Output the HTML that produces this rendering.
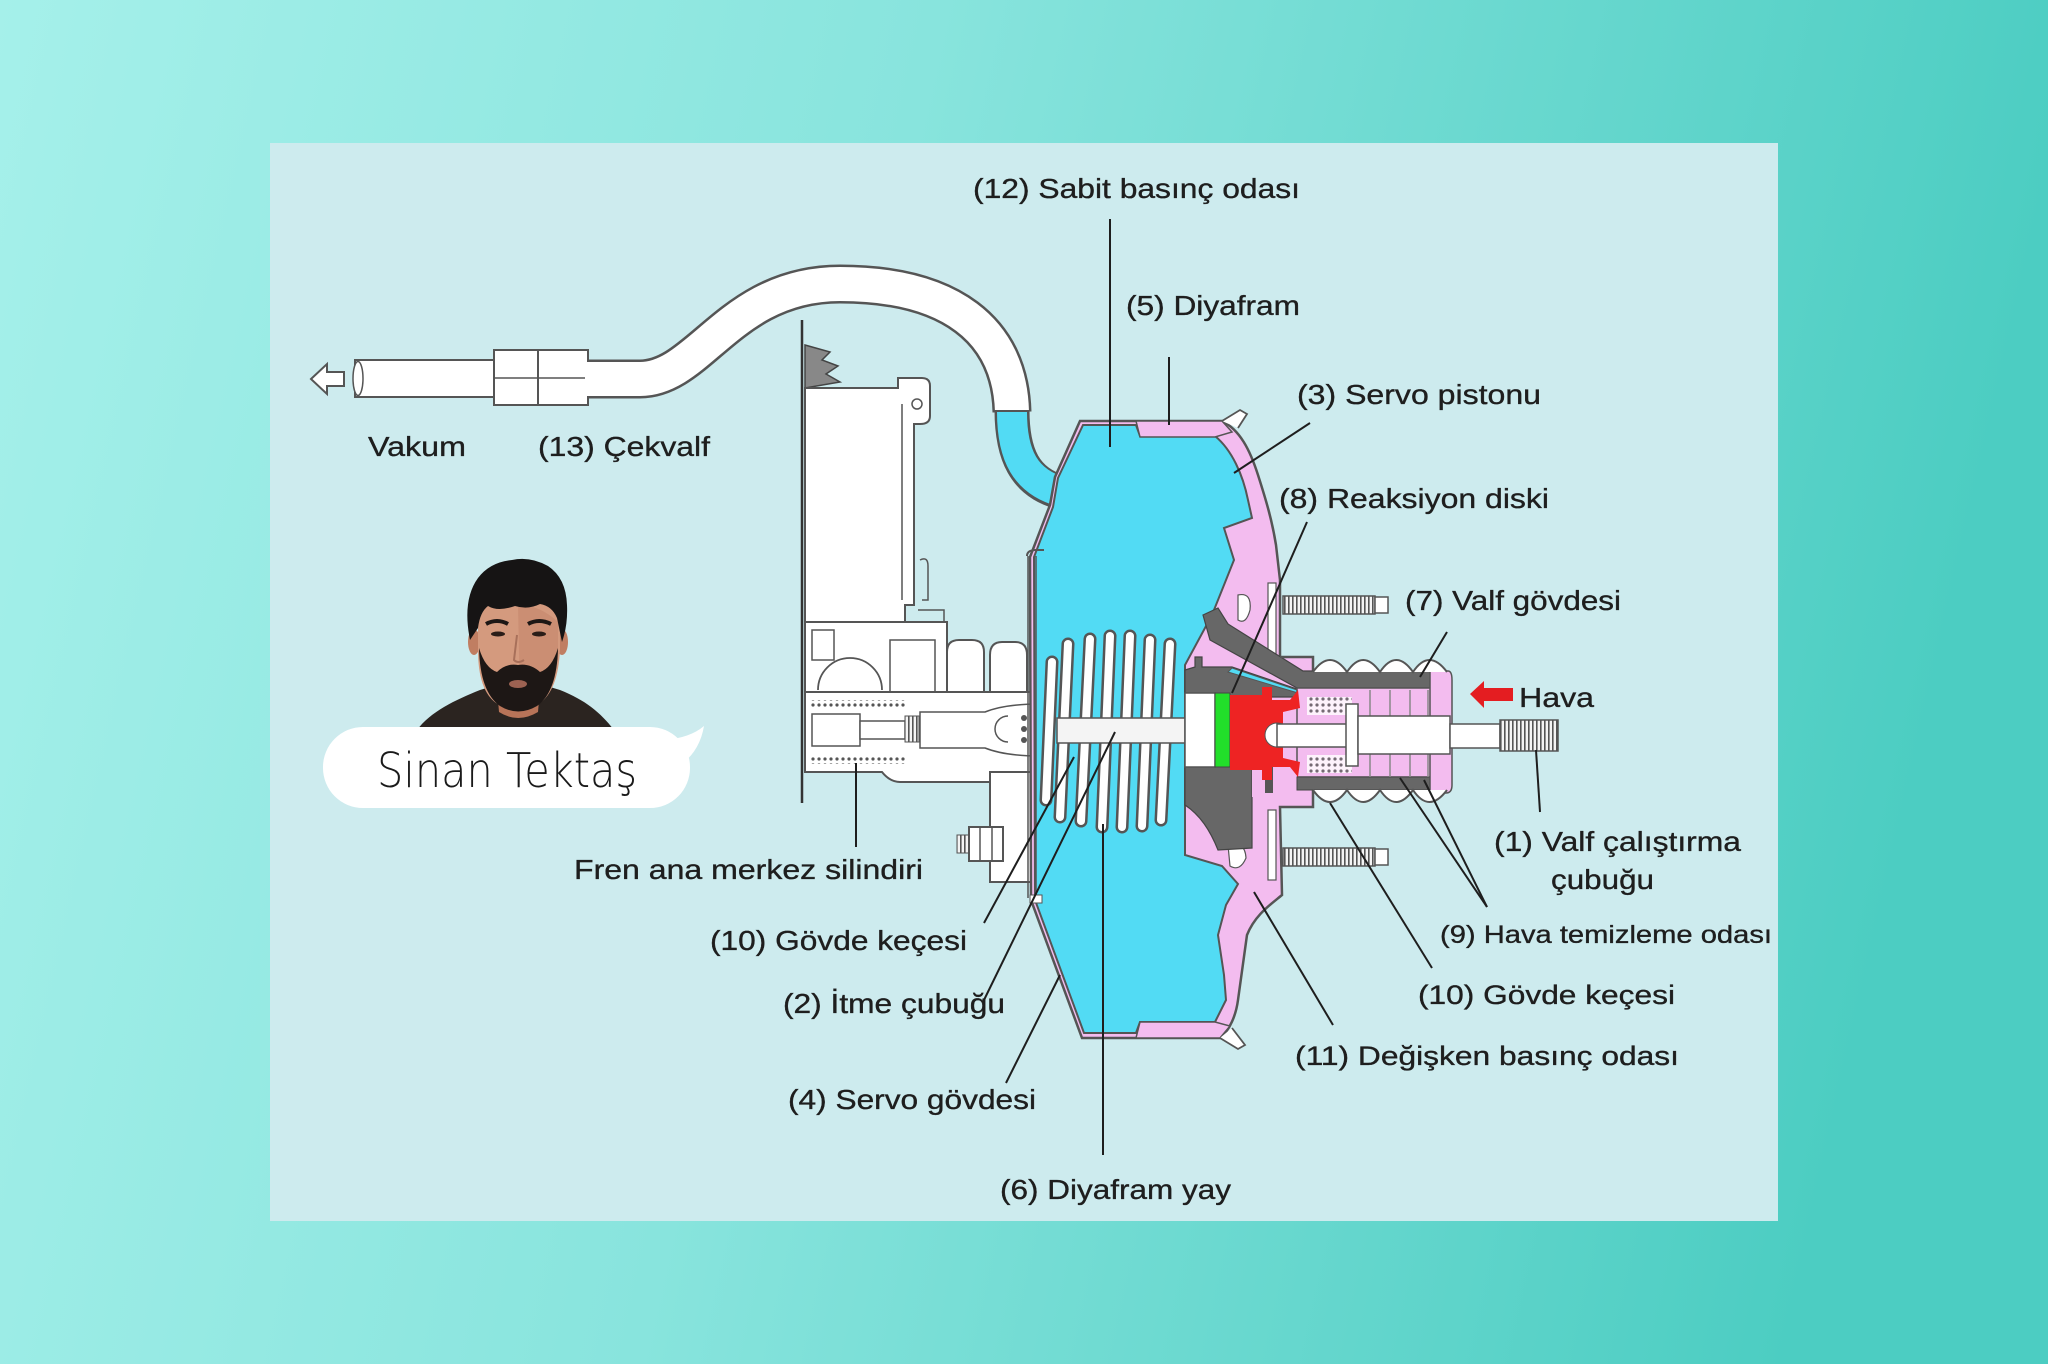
<!DOCTYPE html>
<html>
<head>
<meta charset="utf-8">
<style>
html,body{margin:0;padding:0;width:2048px;height:1364px;overflow:hidden;}
svg{display:block;}
.lb{font-family:"Liberation Sans",Arial,sans-serif;fill:#1e1e1e;font-size:28px;stroke:#1e1e1e;stroke-width:0.35px;}
.ln{stroke:#1e1e1e;stroke-width:2;fill:none;}
.o{stroke:#555;stroke-width:2;}
</style>
</head>
<body>
<svg width="2048" height="1364" viewBox="0 0 2048 1364" xmlns="http://www.w3.org/2000/svg">
<defs>
  <linearGradient id="bg" x1="0" y1="0" x2="1" y2="0.15">
    <stop offset="0" stop-color="#a5f0ea"/>
    <stop offset="0.45" stop-color="#88e4dd"/>
    <stop offset="1" stop-color="#4ccdc2"/>
  </linearGradient>
  <pattern id="vh" width="4" height="4" patternUnits="userSpaceOnUse">
    <rect width="4" height="4" fill="#f4f4f4"/>
    <rect x="0" y="0" width="1.6" height="4" fill="#555"/>
  </pattern>
  <pattern id="dh" width="6" height="6" patternUnits="userSpaceOnUse">
    <rect width="6" height="6" fill="#fff"/>
    <circle cx="3" cy="3" r="1.6" fill="#555"/>
  </pattern>
</defs>

<!-- background -->
<rect width="2048" height="1364" fill="url(#bg)"/>
<rect x="270" y="143" width="1508" height="1078" fill="#cdebee"/>

<!-- ===== vacuum hose ===== -->
<polygon points="311,379 327,364 327,372 344,372 344,386 327,386 327,394" fill="#fff" stroke="#555" stroke-width="2"/>
<rect x="355" y="360" width="139" height="37" fill="#fff" stroke="#555" stroke-width="2"/>
<ellipse cx="358" cy="378.5" rx="5" ry="17" fill="#fff" stroke="#555" stroke-width="1.5"/>
<rect x="494" y="350" width="44" height="55" fill="#fff" stroke="#555" stroke-width="2"/>
<rect x="538" y="350" width="50" height="55" fill="#fff" stroke="#555" stroke-width="2"/>
<line x1="494" y1="378" x2="588" y2="378" stroke="#555" stroke-width="1.5"/>
<path d="M587 379 L640 379 C700 379 730 284 840 284 C950 284 1010 330 1012 412" fill="none" stroke="#555" stroke-width="39"/>
<path d="M585 379 L640 379 C700 379 730 284 840 284 C950 284 1010 330 1012 412" fill="none" stroke="#fff" stroke-width="34"/>
<path d="M1012 410 C1012 455 1025 482 1060 492" fill="none" stroke="#555" stroke-width="35"/>
<path d="M1012 412 C1012 455 1025 482 1062 492" fill="none" stroke="#52dbf4" stroke-width="30"/>

<!-- ===== master cylinder ===== -->
<line x1="802" y1="320" x2="802" y2="803" stroke="#333" stroke-width="2.5"/>
<path d="M805 345 L830 352 L822 360 L838 366 L826 374 L840 382 L805 388 Z" fill="#888" stroke="#444" stroke-width="1.5"/>
<path d="M805 388 H898 V378 H922 Q930 378 930 386 V416 Q930 424 920 424 H914 V605 H905 V625 H805 Z" fill="#fff" stroke="#555" stroke-width="2"/>
<line x1="902" y1="404" x2="902" y2="600" stroke="#555" stroke-width="1.5"/>
<circle cx="917" cy="404" r="5" fill="none" stroke="#555" stroke-width="1.5"/>
<path d="M920 560 Q928 556 928 566 V600 H922" fill="none" stroke="#555" stroke-width="1.5"/>
<path d="M918 610 H944 V636" fill="none" stroke="#555" stroke-width="1.5"/>
<rect x="805" y="622" width="142" height="70" fill="#fff" stroke="#555" stroke-width="2"/>
<path d="M818 690 A32 32 0 0 1 882 690" fill="none" stroke="#555" stroke-width="1.8"/>
<rect x="812" y="630" width="22" height="30" fill="none" stroke="#555" stroke-width="1.5"/>
<path d="M890 692 V640 H935 V692" fill="none" stroke="#555" stroke-width="1.5"/>
<path d="M947 692 V652 Q947 640 959 640 H972 Q984 640 984 652 V692" fill="#fff" stroke="#555" stroke-width="2"/>
<path d="M990 692 V655 Q990 642 1002 642 H1015 Q1027 642 1027 655 V692" fill="#fff" stroke="#555" stroke-width="2"/>
<path d="M805 692 H1057 V772 H1000 V782 H900 Q890 782 882 772 H805 Z" fill="#fff" stroke="#555" stroke-width="2"/>
<rect x="810" y="700" width="95" height="8" fill="url(#dh)"/>
<rect x="810" y="756" width="95" height="8" fill="url(#dh)"/>
<rect x="812" y="714" width="48" height="32" fill="#fff" stroke="#555" stroke-width="1.5"/>
<rect x="860" y="721" width="45" height="18" fill="#fff" stroke="#555" stroke-width="1.5"/>
<rect x="905" y="716" width="14" height="26" fill="url(#vh)" stroke="#555" stroke-width="1"/>
<path d="M920 712 H985 Q1005 704 1040 704 V756 Q1005 756 985 748 H920 Z" fill="#fff" stroke="#555" stroke-width="1.5"/>
<path d="M1008 716 A12 12 0 0 0 1008 742" fill="none" stroke="#555" stroke-width="1.5"/>
<circle cx="1024" cy="718" r="3" fill="#555"/><circle cx="1024" cy="729" r="3" fill="#555"/><circle cx="1024" cy="740" r="3" fill="#555"/>
<rect x="1040" y="704" width="14" height="52" fill="url(#vh)" stroke="#555" stroke-width="1"/>
<path d="M990 772 H1042 V882 H990 Z" fill="#fff" stroke="#555" stroke-width="2"/>
<rect x="957" y="835" width="12" height="18" fill="url(#vh)" stroke="#555" stroke-width="1"/>
<rect x="969" y="827" width="34" height="34" fill="#fff" stroke="#555" stroke-width="2"/>
<line x1="980" y1="827" x2="980" y2="861" stroke="#555" stroke-width="1.5"/>
<line x1="992" y1="827" x2="992" y2="861" stroke="#555" stroke-width="1.5"/>

<!-- ===== servo housing ===== -->
<path d="M1080 421 L1222 421 C1240 430 1250 450 1258 475 C1266 500 1272 520 1276 545 L1280 580 L1280 657 L1313 657 L1313 807 L1280 807 L1282 895 C1270 905 1255 915 1247 935 L1238 1000 C1236 1015 1230 1030 1220 1038 L1082 1038 L1031 900 L1030 557 L1050 505 L1055 477 Z" fill="#f3bcef" stroke="#555" stroke-width="2.5"/>
<path d="M1083 425 L1136 425 L1140 436 L1215 436 C1232 450 1243 475 1248 500 L1252 518 L1224 528 L1234 560 L1224 585 L1212 615 L1185 665 L1185 855 L1222 866 L1238 884 L1226 905 L1218 935 L1224 975 L1226 1000 L1215 1022 L1140 1022 L1136 1033 L1084 1033 L1035 900 L1034 557 L1053 507 L1058 478 Z" fill="#52dbf4" stroke="#555" stroke-width="2"/>
<path d="M1136 421 H1222 L1232 432 L1215 437 H1140 Z" fill="#f3bcef" stroke="#555" stroke-width="1.5"/>
<path d="M1136 1038 H1220 L1230 1026 L1215 1022 H1140 Z" fill="#f3bcef" stroke="#555" stroke-width="1.5"/>
<path d="M1222 421 L1240 410 L1247 414 L1238 428" fill="#fff" stroke="#555" stroke-width="1.8"/>
<path d="M1220 1038 L1238 1049 L1245 1045 L1232 1028" fill="#fff" stroke="#555" stroke-width="1.8"/>
<path d="M1027 556 Q1027 550 1036 550 H1044" fill="none" stroke="#555" stroke-width="2"/>
<line x1="1028" y1="556" x2="1028" y2="898" stroke="#555" stroke-width="1.5"/>
<line x1="1036" y1="556" x2="1036" y2="898" stroke="#555" stroke-width="1.5"/>
<rect x="1030" y="895" width="12" height="8" fill="#fff" stroke="#555" stroke-width="1"/>
<rect x="1268" y="583" width="8" height="72" fill="#fff" stroke="#555" stroke-width="1.2"/>
<rect x="1268" y="810" width="8" height="70" fill="#fff" stroke="#555" stroke-width="1.2"/>
<path d="M1238 595 Q1252 592 1250 610 Q1246 625 1238 620 Z" fill="#fff" stroke="#555" stroke-width="1.2"/>
<path d="M1228 845 Q1245 840 1246 858 Q1240 872 1230 866 Z" fill="#fff" stroke="#555" stroke-width="1.2"/>
<rect x="1283" y="596" width="92" height="18" fill="url(#vh)" stroke="#555" stroke-width="1.5"/>
<rect x="1375" y="597" width="13" height="16" fill="#fff" stroke="#555" stroke-width="1.5"/>
<rect x="1283" y="848" width="92" height="18" fill="url(#vh)" stroke="#555" stroke-width="1.5"/>
<rect x="1375" y="849" width="13" height="16" fill="#fff" stroke="#555" stroke-width="1.5"/>

<!-- ===== springs ===== -->
<g stroke-linecap="round">
  <g stroke="#555" stroke-width="13">
    <line x1="1052" y1="662" x2="1046" y2="800"/>
    <line x1="1068" y1="644" x2="1060" y2="817"/>
    <line x1="1090" y1="639" x2="1081" y2="821"/>
    <line x1="1110" y1="636" x2="1102" y2="827"/>
    <line x1="1130" y1="636" x2="1122" y2="827"/>
    <line x1="1150" y1="640" x2="1142" y2="826"/>
    <line x1="1170" y1="644" x2="1161" y2="820"/>
  </g>
  <g stroke="#fff" stroke-width="8">
    <line x1="1052" y1="662" x2="1046" y2="800"/>
    <line x1="1068" y1="644" x2="1060" y2="817"/>
    <line x1="1090" y1="639" x2="1081" y2="821"/>
    <line x1="1110" y1="636" x2="1102" y2="827"/>
    <line x1="1130" y1="636" x2="1122" y2="827"/>
    <line x1="1150" y1="640" x2="1142" y2="826"/>
    <line x1="1170" y1="644" x2="1161" y2="820"/>
  </g>
</g>
<rect x="1057" y="718" width="128" height="25" fill="#f4f4f4" stroke="#555" stroke-width="1.5"/>

<!-- ===== hub & valve ===== -->
<path d="M1203 615 L1218 608 L1228 624 L1303 671 L1447 671 L1447 688 L1297 688 L1210 640 Z" fill="#676767" stroke="#444" stroke-width="1.2"/>
<path d="M1185 670 L1195 667 L1195 657 L1202 657 L1202 667 L1232 667 L1300 690 L1300 697 L1252 697 L1252 848 L1218 850 C1210 830 1200 815 1185 805 Z" fill="#676767" stroke="#444" stroke-width="1.2"/>
<path d="M1232 668 L1297 690 L1338 692 L1323 708 L1308 696 L1228 672 Z" fill="#52dbf4" stroke="#555" stroke-width="1"/>
<rect x="1185" y="693" width="30" height="74" fill="#fff" stroke="#555" stroke-width="1.5"/>
<rect x="1215" y="693" width="15" height="74" fill="#22df2a" stroke="#444" stroke-width="1"/>
<rect x="1297" y="688" width="153" height="89" fill="#f3bcef" stroke="#555" stroke-width="1.5"/>
<rect x="1252" y="767" width="45" height="30" fill="#f3bcef"/>
<rect x="1297" y="777" width="150" height="13" fill="#676767" stroke="#444" stroke-width="1"/>
<path d="M1430 671 H1448 Q1452 671 1452 680 V785 Q1452 793 1446 793 H1430 Z" fill="#f3bcef" stroke="#555" stroke-width="1.5"/>
<g stroke="#888" stroke-width="1.5">
  <line x1="1370" y1="690" x2="1370" y2="777"/>
  <line x1="1390" y1="690" x2="1390" y2="777"/>
  <line x1="1410" y1="690" x2="1410" y2="777"/>
  <line x1="1428" y1="690" x2="1428" y2="777"/>
</g>
<rect x="1307" y="697" width="45" height="18" fill="url(#dh)" opacity="0.8"/>
<rect x="1307" y="755" width="45" height="18" fill="url(#dh)" opacity="0.8"/>
<rect x="1265" y="767" width="8" height="26" fill="#555"/>
<path d="M1230 695 L1262 695 L1262 687 L1272 687 L1272 700 L1290 700 L1298 690 L1300 708 L1283 712 L1283 758 L1300 762 L1298 777 L1290 767 L1272 767 L1272 780 L1262 780 L1262 770 L1230 770 Z" fill="#ee2323"/>
<circle cx="1277" cy="735" r="12" fill="#fff" stroke="#555" stroke-width="1"/>
<rect x="1277" y="724" width="75" height="23" fill="#fff" stroke="#555" stroke-width="1.5"/>
<rect x="1346" y="704" width="12" height="62" fill="#fff" stroke="#555" stroke-width="1.5"/>
<rect x="1358" y="716" width="92" height="38" fill="#fff" stroke="#555" stroke-width="1.5"/>
<rect x="1450" y="724" width="50" height="24" fill="#fff" stroke="#555" stroke-width="1.5"/>
<rect x="1500" y="720" width="58" height="31" fill="url(#vh)" stroke="#555" stroke-width="1.5"/>
<path d="M1313 672 Q1330 648 1347 672 Q1363 648 1380 672 Q1396 648 1413 672 Q1429 648 1447 672" fill="#fff" stroke="#555" stroke-width="2"/>
<path d="M1313 790 Q1330 814 1347 790 Q1363 814 1380 790 Q1396 814 1413 790 Q1429 814 1447 790" fill="#fff" stroke="#555" stroke-width="2"/>
<line x1="1280" y1="657" x2="1313" y2="657" stroke="#555" stroke-width="2"/>
<line x1="1280" y1="807" x2="1313" y2="807" stroke="#555" stroke-width="2"/>

<polygon points="1470,694 1484,681 1484,688 1513,688 1513,701 1484,701 1484,708" fill="#e41d21"/>

<!-- ===== leader lines ===== -->
<g class="ln">
  <line x1="1110" y1="219" x2="1110" y2="447"/>
  <line x1="1169" y1="357" x2="1169" y2="425"/>
  <line x1="1310" y1="423" x2="1234" y2="473"/>
  <line x1="1307" y1="522" x2="1232" y2="693"/>
  <line x1="1447" y1="632" x2="1420" y2="677"/>
  <line x1="1536" y1="750" x2="1540" y2="812"/>
  <line x1="1487" y1="907" x2="1400" y2="778"/>
  <line x1="1487" y1="907" x2="1424" y2="780"/>
  <line x1="1432" y1="968" x2="1330" y2="803"/>
  <line x1="1333" y1="1025" x2="1254" y2="892"/>
  <line x1="1103" y1="824" x2="1103" y2="1155"/>
  <line x1="1006" y1="1083" x2="1060" y2="975"/>
  <line x1="984" y1="1000" x2="1115" y2="732"/>
  <line x1="984" y1="923" x2="1074" y2="757"/>
  <line x1="856" y1="763" x2="856" y2="847"/>
</g>

<!-- ===== labels ===== -->
<text class="lb" x="973" y="198" textLength="327" lengthAdjust="spacingAndGlyphs">(12) Sabit basınç odası</text>
<text class="lb" x="1126" y="315" textLength="174" lengthAdjust="spacingAndGlyphs">(5) Diyafram</text>
<text class="lb" x="1297" y="404" textLength="244" lengthAdjust="spacingAndGlyphs">(3) Servo pistonu</text>
<text class="lb" x="1279" y="508" textLength="270" lengthAdjust="spacingAndGlyphs">(8) Reaksiyon diski</text>
<text class="lb" x="1405" y="610" textLength="216" lengthAdjust="spacingAndGlyphs">(7) Valf gövdesi</text>
<text class="lb" x="1519" y="707" textLength="75" lengthAdjust="spacingAndGlyphs">Hava</text>
<text class="lb" x="1494" y="851" textLength="247" lengthAdjust="spacingAndGlyphs">(1) Valf çalıştırma</text>
<text class="lb" x="1551" y="889" textLength="103" lengthAdjust="spacingAndGlyphs">çubuğu</text>
<text class="lb" x="1440" y="943" style="font-size:25px" textLength="332" lengthAdjust="spacingAndGlyphs">(9) Hava temizleme odası</text>
<text class="lb" x="1418" y="1004" style="font-size:27px" textLength="257" lengthAdjust="spacingAndGlyphs">(10) Gövde keçesi</text>
<text class="lb" x="1295" y="1065" style="font-size:27px" textLength="384" lengthAdjust="spacingAndGlyphs">(11) Değişken basınç odası</text>
<text class="lb" x="1000" y="1199" textLength="231" lengthAdjust="spacingAndGlyphs">(6) Diyafram yay</text>
<text class="lb" x="788" y="1109" textLength="248" lengthAdjust="spacingAndGlyphs">(4) Servo gövdesi</text>
<text class="lb" x="783" y="1013" textLength="222" lengthAdjust="spacingAndGlyphs">(2) İtme çubuğu</text>
<text class="lb" x="710" y="950" textLength="257" lengthAdjust="spacingAndGlyphs">(10) Gövde keçesi</text>
<text class="lb" x="574" y="879" textLength="349" lengthAdjust="spacingAndGlyphs">Fren ana merkez silindiri</text>
<text class="lb" x="368" y="456" textLength="98" lengthAdjust="spacingAndGlyphs">Vakum</text>
<text class="lb" x="538" y="456" textLength="172" lengthAdjust="spacingAndGlyphs">(13) Çekvalf</text>

<!-- ===== avatar ===== -->
<g>
  <path d="M417 730 C430 712 455 700 480 690 L500 684 L540 684 L560 690 C585 700 600 712 614 730 Z" fill="#2b2420"/>
  <path d="M497 688 L540 688 L538 712 Q518 724 499 712 Z" fill="#b87458"/>
  <ellipse cx="474" cy="642" rx="6" ry="13" fill="#c07e62"/>
  <ellipse cx="562" cy="642" rx="6" ry="13" fill="#c07e62"/>
  <path d="M478 605 Q478 590 518 590 Q560 590 560 605 L560 650 Q558 690 540 703 Q518 715 496 703 Q478 690 478 650 Z" fill="#d49a7e"/>
  <path d="M518 605 Q540 605 558 622 L558 660 Q540 690 520 700 Z" fill="#c4876c" opacity="0.6"/>
  <path d="M470 640 Q462 600 478 578 Q490 562 512 560 Q530 556 548 566 Q566 578 567 605 Q568 625 562 642 L557 618 Q552 606 540 604 Q528 610 515 606 Q498 612 488 606 Q480 612 478 628 Z" fill="#161414"/>
  <path d="M479 648 Q480 692 500 706 Q518 717 537 706 Q557 692 558 648 Q552 668 540 672 Q530 663 518 665 Q506 663 497 672 Q485 668 479 648 Z" fill="#1d1715"/>
  <ellipse cx="518" cy="684" rx="9" ry="4" fill="#9c6252"/>
  <path d="M486 624 Q497 618 508 624" stroke="#1d1715" stroke-width="4" fill="none"/>
  <path d="M528 624 Q539 618 551 624" stroke="#1d1715" stroke-width="4" fill="none"/>
  <ellipse cx="498" cy="634" rx="7" ry="2.5" fill="#2a1d18"/>
  <ellipse cx="539" cy="634" rx="7" ry="2.5" fill="#2a1d18"/>
  <path d="M517 635 L514 660 Q518 664 524 660" stroke="#a8705a" stroke-width="2" fill="none"/>
</g>
<rect x="323" y="727" width="367" height="81" rx="40" ry="40" fill="#ffffff"/>
<path d="M664 740 Q690 738 704 726 Q700 750 682 764 Z" fill="#ffffff"/>
<text x="377" y="787" font-family="'DejaVu Sans ExtraLight','DejaVu Sans Light','Liberation Sans',sans-serif" font-weight="200" font-size="48" fill="#1a1a1a" textLength="260" lengthAdjust="spacingAndGlyphs">Sinan Tektaş</text>
</svg>
</body>
</html>
